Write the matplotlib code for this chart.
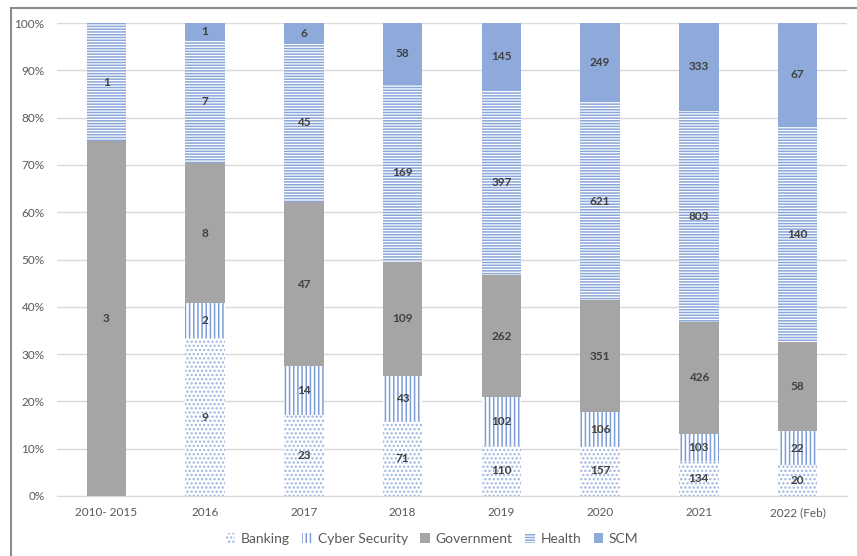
import matplotlib.pyplot as plt
import matplotlib.lines as mlines
import numpy as np

plt.rcParams['font.family'] = ['Lato', 'DejaVu Sans']
plt.rcParams['hatch.linewidth'] = 1.1

# data
years = ['2010- 2015', '2016', '2017', '2018', '2019', '2020', '2021', '2022 (Feb)']
banking = [0, 9, 23, 71, 110, 157, 134, 20]
cyber = [0, 2, 14, 43, 102, 106, 103, 22]
government = [3, 8, 47, 109, 262, 351, 426, 58]
health = [1, 7, 45, 169, 397, 621, 803, 140]
scm = [0, 1, 6, 58, 145, 249, 333, 67]

series = [
    ('Banking', banking, 'white', '#9db4e0', '....'),
    ('Cyber Security', cyber, 'white', '#7f9ed9', '||||'),
    ('Government', government, '#a5a5a5', '#a5a5a5', None),
    ('Health', health, 'white', '#8aa6da', '------'),
    ('SCM', scm, '#8eaadb', '#8eaadb', None),
]

totals = np.array([banking, cyber, government, health, scm]).sum(axis=0)

fig = plt.figure(figsize=(8.57, 5.56), dpi=100)
ax = fig.add_axes([57 / 857, 1 - 496 / 556, 790 / 857, 473 / 556])

x = np.arange(len(years))
bottom = np.zeros(len(years))
handles = []
for name, vals, face, hcol, hatch in series:
    share = np.array(vals) / totals * 100
    bars = ax.bar(x, share, width=0.4, bottom=bottom, color=face,
                  edgecolor=hcol, linewidth=0, hatch=hatch, label=name, zorder=2)
    handles.append(bars)
    for xi, v, s, b in zip(x, vals, share, bottom):
        if v > 0:
            ax.text(xi, b + s / 2, str(v), ha='center', va='center',
                    fontsize=8.5, fontweight='bold', color='#404040', zorder=3)
    bottom += share

ax.set_xlim(-0.5, len(years) - 0.5)
ax.set_ylim(0, 100)
ax.set_yticks(np.arange(0, 101, 10))
ax.set_yticklabels([f'{v}%' for v in range(0, 101, 10)])
ax.set_xticks(x)
ax.set_xticklabels(years)
ax.tick_params(axis='both', length=0, labelsize=8.5, colors='#595959')
ax.tick_params(axis='y', pad=9)
ax.tick_params(axis='x', pad=8)
ax.grid(axis='y', color='#d9d9d9', linewidth=1, zorder=0)
for side in ['left', 'right', 'top']:
    ax.spines[side].set_visible(False)
ax.spines['bottom'].set_color('#d9d9d9')

fig.legend(handles=handles, loc='center', bbox_to_anchor=(432 / 857, 1 - 539 / 556),
           ncol=5, frameon=False, fontsize=10, labelcolor='#595959',
           handlelength=0.7, handleheight=0.7, handletextpad=0.4, columnspacing=0.9)

# frame lines of the original picture (left and top)
fig.add_artist(mlines.Line2D([11 / 857, 11 / 857], [0, 1 - 8 / 556],
                             transform=fig.transFigure, color='#8c8c8c', linewidth=1.5))
fig.add_artist(mlines.Line2D([11 / 857, 1], [1 - 8 / 556, 1 - 8 / 556],
                             transform=fig.transFigure, color='#8c8c8c', linewidth=1.5))

fig.savefig('out.png', dpi=100)
